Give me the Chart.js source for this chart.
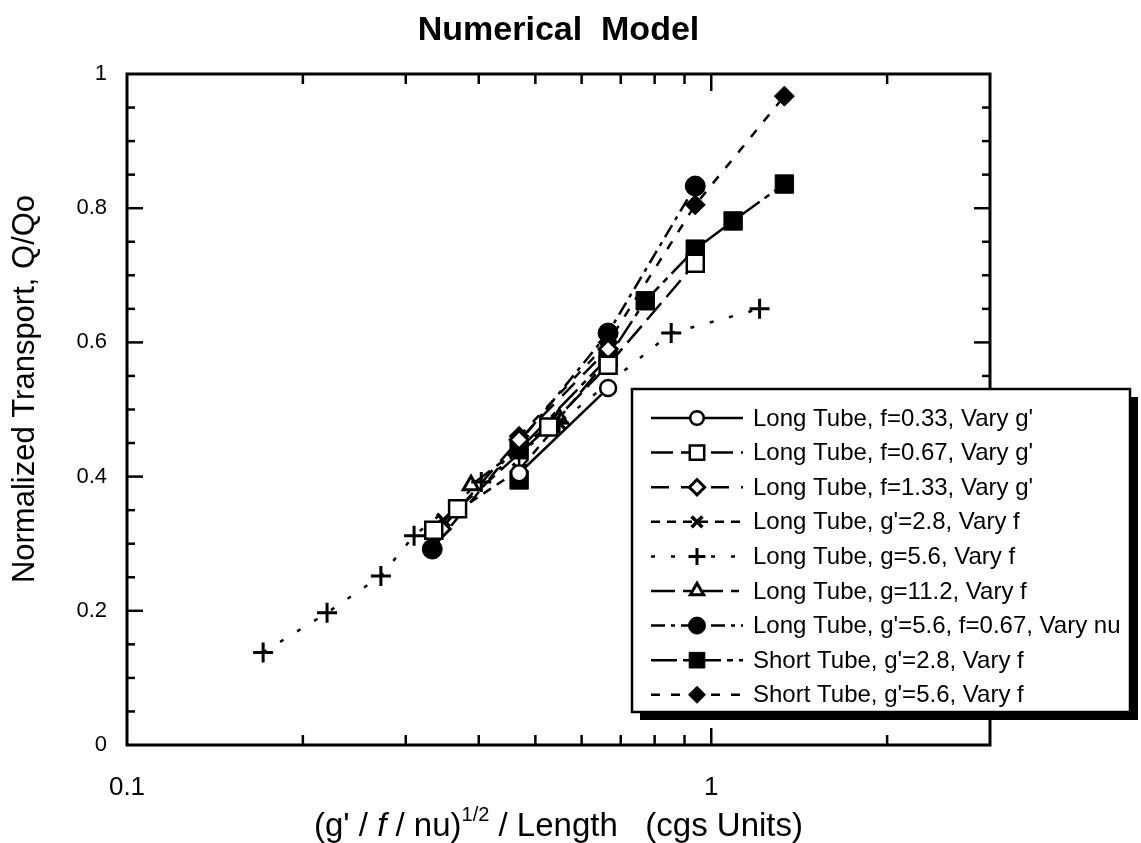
<!DOCTYPE html>
<html lang="en">
<head>
<meta charset="UTF-8">
<title>Numerical Model</title>
<script src="https://cdn.jsdelivr.net/npm/chart.js"></script>
<style>
  html, body { margin: 0; padding: 0; background: #fff; }
</style>
</head>
<body>
<canvas id="myChart" width="1141" height="843"></canvas>
<script>
  // values
  const seriesNames = [
    "Long Tube, f=0.33, Vary g'",
    "Long Tube, f=0.67, Vary g'",
    "Long Tube, f=1.33, Vary g'",
    "Long Tube, g'=2.8, Vary f",
    "Long Tube, g=5.6, Vary f",
    "Long Tube, g=11.2, Vary f",
    "Long Tube, g'=5.6, f=0.67, Vary nu",
    "Short Tube, g'=2.8, Vary f",
    "Short Tube, g'=5.6, Vary f"
  ];

  const x1 = [0.469, 0.666];
  const y1 = [0.405, 0.532];
  const x2 = [0.335, 0.368, 0.527, 0.666, 0.939];
  const y2 = [0.320, 0.352, 0.474, 0.566, 0.718];
  const x3 = [0.345, 0.469, 0.666];
  const y3 = [0.322, 0.455, 0.590];
  const x4 = [0.348, 0.469, 0.549];
  const y4 = [0.335, 0.410, 0.480];
  const x5 = [0.171, 0.220, 0.272, 0.310, 0.404, 0.549, 0.854, 1.21];
  const y5 = [0.138, 0.197, 0.252, 0.312, 0.392, 0.480, 0.614, 0.650];
  const x6 = [0.388, 0.549, 0.666];
  const y6 = [0.387, 0.487, 0.575];
  const x7 = [0.333, 0.666, 0.939];
  const y7 = [0.292, 0.614, 0.833];
  const x8 = [0.469, 0.469, 0.666, 0.771, 0.939, 1.09, 1.334];
  const y8 = [0.395, 0.440, 0.577, 0.662, 0.739, 0.781, 0.836];
  const x9 = [0.469, 0.666, 0.939, 1.334];
  const y9 = [0.460, 0.600, 0.805, 0.967];

  const xTickLabels = [0.1, 1];
  const yTickLabels = [0, 0.2, 0.4, 0.6, 0.8, 1];
  const xMinorTicks = [0.2, 0.3, 0.4, 0.5, 0.6, 0.7, 0.8, 0.9, 1, 2];
  const yMinorTicks = [0.05, 0.1, 0.15, 0.2, 0.25, 0.3, 0.35, 0.4, 0.45, 0.5,
                       0.55, 0.6, 0.65, 0.7, 0.75, 0.8, 0.85, 0.9, 0.95];

  const fonte = "'Liberation Sans', Arial, Helvetica, sans-serif";

  // marker / line style per series
  const estilos = [
    { pointStyle: 'circle',   radius: 8,  fill: '#fff', bw: 2.5, dash: [] },
    { pointStyle: 'rect',     radius: 12, fill: '#fff', bw: 2.5, dash: [22, 8] },
    { pointStyle: 'rectRot',  radius: 9,  fill: '#fff', bw: 3,   dash: [18, 12] },
    { pointStyle: 'crossRot', radius: 9,  fill: '#000', bw: 3.5, dash: [9, 7] },
    { pointStyle: 'cross',    radius: 10, fill: '#000', bw: 3,   dash: [4, 16] },
    { pointStyle: 'triangle', radius: 9,  fill: '#fff', bw: 3,   dash: [24, 8, 8, 8] },
    { pointStyle: 'circle',   radius: 10, fill: '#000', bw: 1,   dash: [14, 6, 4, 6] },
    { pointStyle: 'rect',     radius: 13, fill: '#000', bw: 1,   dash: [26, 6, 6, 6] },
    { pointStyle: 'rectRot',  radius: 10, fill: '#000', bw: 1,   dash: [9, 11] }
  ];

  const xs = [x1, x2, x3, x4, x5, x6, x7, x8, x9];
  const ys = [y1, y2, y3, y4, y5, y6, y7, y8, y9];

  let datasets = [];
  for (let i = 0; i < xs.length; i++) {
    let pts = [];
    for (let j = 0; j < xs[i].length; j++) {
      pts.push({ x: xs[i][j], y: ys[i][j] });
    }
    const e = estilos[i];
    datasets.push({
      label: seriesNames[i],
      data: pts,
      showLine: true,
      borderColor: '#000',
      borderWidth: 2.5,
      borderDash: e.dash,
      pointStyle: e.pointStyle,
      pointRadius: e.radius,
      pointBackgroundColor: e.fill,
      pointBorderColor: '#000',
      pointBorderWidth: e.bw,
      tension: 0
    });
  }

  function linha(ctx, x0, y0, x1, y1) {
    ctx.beginPath();
    ctx.moveTo(x0, y0);
    ctx.lineTo(x1, y1);
    ctx.stroke();
  }

  // frame, inward ticks, titles and the boxed legend
  const moldura = {
    id: 'moldura',
    afterDraw(chart) {
      const ctx = chart.ctx;
      const a = chart.chartArea;
      const sx = chart.scales.x;
      const sy = chart.scales.y;
      ctx.save();
      ctx.strokeStyle = '#000';
      ctx.setLineDash([]);

      ctx.lineWidth = 3;
      ctx.strokeRect(a.left, a.top, a.right - a.left, a.bottom - a.top);

      ctx.lineWidth = 2.5;
      xMinorTicks.forEach(v => {
        const p = sx.getPixelForValue(v);
        const len = (v === 1) ? 17 : 10;
        linha(ctx, p, a.bottom, p, a.bottom - len);
        linha(ctx, p, a.top, p, a.top + len);
      });
      yMinorTicks.forEach(v => {
        const p = sy.getPixelForValue(v);
        const major = Math.abs(v * 5 - Math.round(v * 5)) < 1e-6;
        const len = major ? 16 : 8;
        linha(ctx, a.left, p, a.left + len, p);
        linha(ctx, a.right, p, a.right - len, p);
      });

      // main title
      ctx.fillStyle = '#000';
      ctx.textAlign = 'center';
      ctx.textBaseline = 'middle';
      ctx.font = 'bold 34px ' + fonte;
      ctx.fillText('Numerical  Model', (a.left + a.right) / 2, 31);

      // y axis title
      ctx.save();
      ctx.translate(25, 389);
      ctx.rotate(-Math.PI / 2);
      ctx.font = '31px ' + fonte;
      ctx.fillText('Normalized Transport, Q/Qo', 0, 0);
      ctx.restore();

      // x axis title with italic f and superscript
      const partes = [
        { t: "(g' / ", f: '33px ' + fonte, dy: 0 },
        { t: 'f', f: 'italic 33px ' + fonte, dy: 0 },
        { t: ' / nu)', f: '33px ' + fonte, dy: 0 },
        { t: '1/2', f: '20px ' + fonte, dy: -15 },
        { t: ' / Length   (cgs Units)', f: '33px ' + fonte, dy: 0 }
      ];
      let total = 0;
      partes.forEach(p => { ctx.font = p.f; total += ctx.measureText(p.t).width; });
      let cx = (a.left + a.right) / 2 - total / 2;
      ctx.textAlign = 'left';
      ctx.textBaseline = 'alphabetic';
      partes.forEach(p => {
        ctx.font = p.f;
        ctx.fillText(p.t, cx, 836 + p.dy);
        cx += ctx.measureText(p.t).width;
      });

      // legend box with shadow
      const lx = 632, ly = 389, lw = 498, lh = 323;
      ctx.fillStyle = '#000';
      ctx.fillRect(lx + 8, ly + 8, lw, lh);
      ctx.fillStyle = '#fff';
      ctx.fillRect(lx, ly, lw, lh);
      ctx.lineWidth = 2.5;
      ctx.strokeRect(lx, ly, lw, lh);

      ctx.font = '24px ' + fonte;
      ctx.textBaseline = 'middle';
      for (let i = 0; i < datasets.length; i++) {
        const yy = 418 + i * 34.6;
        const e = estilos[i];
        ctx.lineWidth = 2.5;
        ctx.setLineDash(e.dash);
        linha(ctx, 651, yy, 743, yy);
        ctx.setLineDash([]);
        ctx.fillStyle = e.fill;
        ctx.lineWidth = e.bw;
        Chart.helpers.drawPoint(ctx, { pointStyle: e.pointStyle, radius: e.radius * 0.85, rotation: 0, borderWidth: e.bw }, 697, yy);
        ctx.fillStyle = '#000';
        ctx.fillText(seriesNames[i], 753, yy + 1);
      }
      ctx.restore();
    }
  };

  const config = {
    type: 'scatter',
    data: { datasets: datasets },
    options: {
      responsive: false,
      animation: false,
      layout: { padding: { top: 74, right: 151, left: 0, bottom: 0 } },
      plugins: {
        legend: { display: false },
        tooltip: { enabled: false },
        title: { display: false }
      },
      scales: {
        x: {
          type: 'logarithmic',
          min: 0.1,
          max: 3,
          grid: { display: false, drawTicks: false },
          border: { display: false },
          afterFit(s) { s.height = 98; },
          afterBuildTicks(s) { s.ticks = xTickLabels.map(v => ({ value: v })); },
          ticks: {
            padding: 27,
            color: '#000',
            font: { size: 26, family: fonte },
            autoSkip: false,
            maxRotation: 0,
            callback: v => String(v)
          }
        },
        y: {
          min: 0,
          max: 1,
          grid: { display: false, drawTicks: false },
          border: { display: false },
          afterFit(s) { s.width = 127; },
          afterBuildTicks(s) { s.ticks = yTickLabels.map(v => ({ value: v })); },
          ticks: {
            padding: 20,
            color: '#000',
            font: { size: 22, family: fonte },
            callback: v => String(v)
          }
        }
      }
    },
    plugins: [moldura]
  };

  let myChart = new Chart(document.getElementById('myChart'), config);
</script>
</body>
</html>
